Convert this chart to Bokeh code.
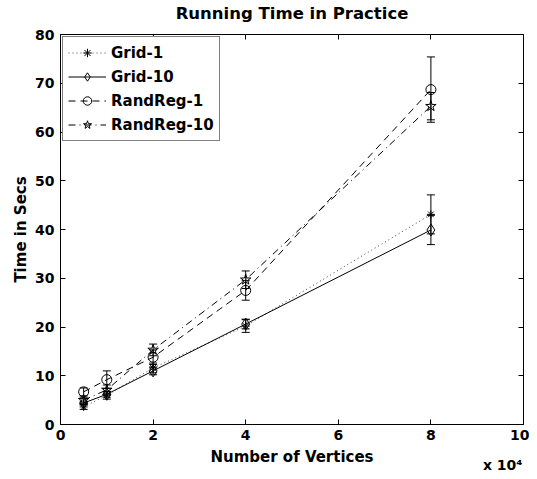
from bokeh.plotting import figure
from bokeh.models import (ColumnDataSource, Whisker, TeeHead, Legend, LegendItem,
                          FixedTicker, LinearAxis, Range1d)
from bokeh.embed import file_html
from bokeh.resources import INLINE

# ---- data ----
vertices = [5000, 10000, 20000, 40000, 80000]
grid1 = [3.6, 6.0, 11.6, 20.2, 43.1]
grid1_err = [0.5, 0.8, 1.0, 1.3, 4.0]
grid10 = [4.4, 6.2, 11.0, 20.6, 39.9]
grid10_err = [0.4, 0.6, 0.8, 1.0, 3.0]
randreg1 = [6.7, 9.2, 13.8, 27.5, 68.7]
randreg1_err = [0.8, 1.8, 1.5, 2.0, 6.7]
randreg10 = [5.0, 7.1, 15.3, 29.7, 65.3]
randreg10_err = [0.6, 1.0, 1.2, 1.8, 2.8]

series_names = ["Grid-1", "Grid-10", "RandReg-1", "RandReg-10"]
x_ticks = [0, 20000, 40000, 60000, 80000, 100000]
x_tick_labels = ["0", "2", "4", "6", "8", "10"]
y_ticks = [0, 10, 20, 30, 40, 50, 60, 70, 80]
x_scale_text = "x 10\u2074"
title_text = "Running Time in Practice"

FONT = "DejaVu Sans"

p = figure(width=529, height=475, output_backend="svg", toolbar_location=None,
           x_range=Range1d(0, 100000), y_range=Range1d(0, 80),
           min_border_left=60, min_border_right=6, min_border_top=32,
           min_border_bottom=51)
p.background_fill_color = "white"
p.border_fill_color = "white"
p.outline_line_color = "black"
p.outline_line_width = 1
p.grid.visible = False

def style_axis(ax, show_labels):
    ax.major_tick_in = 5
    ax.major_tick_out = 0
    ax.minor_tick_line_color = None
    ax.axis_line_color = "black"
    ax.major_tick_line_color = "black"
    ax.major_label_text_font = FONT
    ax.major_label_text_font_style = "bold"
    if show_labels:
        ax.major_label_text_font_size = "14px"
        ax.major_label_text_color = "black"
    else:
        ax.major_label_text_font_size = "1px"
        ax.major_label_text_color = None
    ax.axis_label_text_font = FONT
    ax.axis_label_text_font_style = "bold"
    ax.axis_label_text_font_size = "15px"
    ax.axis_label_text_color = "black"

xlab = {t: l for t, l in zip(x_ticks, x_tick_labels)}

p.xaxis.ticker = FixedTicker(ticks=x_ticks)
p.xaxis.major_label_overrides = xlab
p.xaxis.axis_label = "Number of Vertices"
p.xaxis.axis_label_standoff = 5
p.xaxis.major_label_standoff = 5
style_axis(p.xaxis[0], True)

p.yaxis.ticker = FixedTicker(ticks=y_ticks)
p.yaxis.axis_label = "Time in Secs"
p.yaxis.axis_label_standoff = 2
p.yaxis.major_label_standoff = 6
style_axis(p.yaxis[0], True)

# top axis carries the chart title
top_ax = LinearAxis(ticker=FixedTicker(ticks=x_ticks), major_label_standoff=0)
style_axis(top_ax, False)
top_ax.axis_label = title_text
top_ax.axis_label_standoff = 12
top_ax.axis_label_text_font_size = "16.5px"
p.add_layout(top_ax, "above")

right_ax = LinearAxis(ticker=FixedTicker(ticks=y_ticks), major_label_standoff=0)
style_axis(right_ax, False)
p.add_layout(right_ax, "right")

# exponent note under the right end of the x axis
scale_pos = 95500
scale_ax = LinearAxis(ticker=FixedTicker(ticks=[scale_pos]),
                      major_label_overrides={scale_pos: x_scale_text},
                      major_label_standoff=-12)
scale_ax.major_tick_in = 0
scale_ax.major_tick_out = 0
scale_ax.major_tick_line_color = None
scale_ax.minor_tick_line_color = None
scale_ax.axis_line_color = None
scale_ax.major_label_text_font = FONT
scale_ax.major_label_text_font_style = "bold"
scale_ax.major_label_text_font_size = "14px"
scale_ax.major_label_text_color = "black"
p.add_layout(scale_ax, "below")

styles = [
    dict(vals=grid1, err=grid1_err, dash="1 3", marker="asterisk", size=8, lc="#444444"),
    dict(vals=grid10, err=grid10_err, dash="solid", marker="diamond", size=12, lc="black"),
    dict(vals=randreg1, err=randreg1_err, dash="7 5", marker="circle", size=10, lc="black"),
    dict(vals=randreg10, err=randreg10_err, dash="7 4 1 4", marker="star", size=11, lc="black"),
]

items = []
for name, st in zip(series_names, styles):
    src = ColumnDataSource(dict(
        x=vertices, y=st["vals"],
        upper=[v + e for v, e in zip(st["vals"], st["err"])],
        lower=[v - e for v, e in zip(st["vals"], st["err"])]))
    w = Whisker(base="x", upper="upper", lower="lower", source=src,
                line_color="black", line_width=1,
                upper_head=TeeHead(size=8, line_color="black", line_width=1),
                lower_head=TeeHead(size=8, line_color="black", line_width=1))
    p.add_layout(w)
    ln = p.line("x", "y", source=src, line_color=st["lc"], line_width=1,
                line_dash=st["dash"])
    sc = p.scatter("x", "y", source=src, marker=st["marker"], size=st["size"],
                   line_color="black", fill_color=None, line_width=1)
    items.append(LegendItem(label=name, renderers=[ln, sc]))

legend = Legend(items=items, location="top_left")
legend.label_text_font = FONT
legend.label_text_font_style = "bold"
legend.label_text_font_size = "15px"
legend.label_text_color = "black"
legend.glyph_width = 38
legend.glyph_height = 21
legend.label_height = 21
legend.label_standoff = 5
legend.spacing = 3
legend.padding = 5
legend.margin = 2
legend.border_line_color = "black"
legend.border_line_width = 1
legend.background_fill_color = "white"
legend.background_fill_alpha = 1
p.add_layout(legend)

open("out.html", "w").write(file_html(p, INLINE))
